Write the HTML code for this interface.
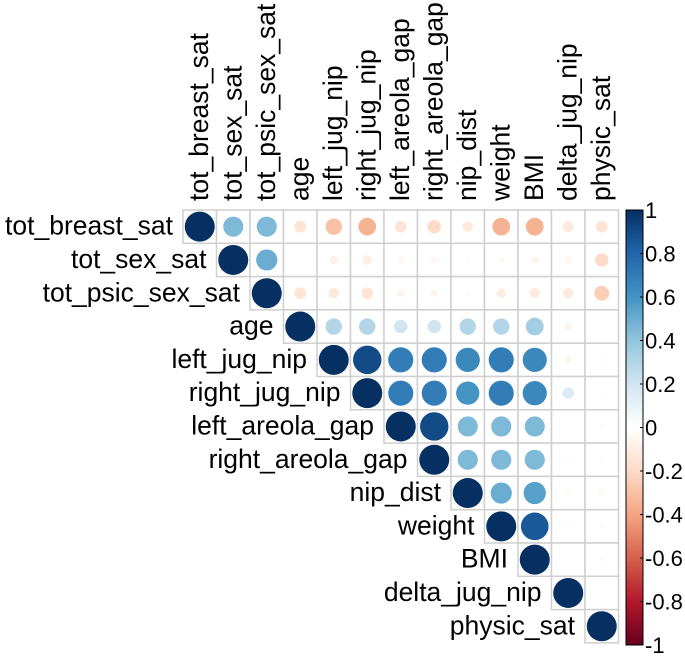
<!DOCTYPE html>
<html><head><meta charset="utf-8">
<style>body{margin:0;background:#fff}svg{display:block;font-family:"Liberation Sans",sans-serif}</style>
</head><body>
<svg id="c" width="685" height="658"></svg>
<script>
const labels=["tot_breast_sat","tot_sex_sat","tot_psic_sex_sat","age","left_jug_nip","right_jug_nip","left_areola_gap","right_areola_gap","nip_dist","weight","BMI","delta_jug_nip","physic_sat"];
const row0=[1,.45,.45,-.15,-.3,-.35,-.15,-.2,-.12,-.35,-.35,-.13,-.15];
const row1=[1,.5,.01,-.08,-.1,-.05,-.05,.02,-.04,-.06,-.05,-.2];
const row2=[1,-.15,-.12,-.15,-.06,-.06,.02,-.1,-.12,-.12,-.25];
const row3=[1,.3,.3,.2,.2,.3,.3,.35,-.06,.01];
const row4=[1,.9,.7,.7,.65,.7,.65,-.06,-.02];
const row5=[1,.7,.7,.6,.7,.65,.15,-.02];
const row6=[1,.9,.45,.45,.45,.01,-.02];
const row7=[1,.45,.45,.45,.02,-.02];
const row8=[1,.5,.55,-.04,-.04];
const row9=[1,.85,.02,-.02];
const row10=[1,.02,-.03];
const row11=[1,.01];
const row12=[1];
const rows=[row0,row1,row2,row3,row4,row5,row6,row7,row8,row9,row10,row11,row12];
const ticks=[1,0.8,0.6,0.4,0.2,0,-0.2,-0.4,-0.6,-0.8,-1];
const X0=183,Y0=210,CW=33.5,CH=33.3,RMAX=15,FS=26.5;
const pal=["#67001F","#B2182B","#D6604D","#F4A582","#FDDBC7","#FFFFFF","#D1E5F0","#92C5DE","#4393C3","#2166AC","#053061"];
function hex(h){return [1,3,5].map(i=>parseInt(h.substr(i,2),16));}
function col(v){const t=(v+1)/2*10;const i=Math.min(9,Math.floor(t)),f=t-i;const a=hex(pal[i]),b=hex(pal[i+1]);return "rgb("+a.map((x,k)=>Math.round(x+(b[k]-x)*f)).join(",")+")";}
const NS="http://www.w3.org/2000/svg",svg=document.getElementById("c");
function mk(t,a,p){const e=document.createElementNS(NS,t);for(const k in a)e.setAttribute(k,a[k]);(p||svg).appendChild(e);return e;}
function xc(j){return X0+j*CW;}function yc(i){return Y0+i*CH;}
for(let i=0;i<13;i++){
  const lt=mk("text",{x:xc(i)-10,y:yc(i)+CH/2+8,"text-anchor":"end","font-size":FS,fill:"#000"});
  lt.textContent=labels[i];
  
  
  const ct=mk("text",{transform:`translate(${xc(i)+CW/2+8},201) rotate(-90)`,"font-size":FS,fill:"#000"});
  ct.textContent=labels[i];
  
  
  rows[i].forEach((v,k)=>{const j=i+k;
    const r=mk("rect",{x:xc(j),y:yc(i),width:CW,height:CH,fill:"#fff",stroke:"#cfcfcf","stroke-width":1.5});
    
    
    const c=mk("circle",{cx:xc(j)+CW/2,cy:yc(i)+CH/2,r:RMAX*Math.sqrt(Math.abs(v)),fill:col(v)});
    
    
  });
}
const BX=626,BT=210,BB=645,BW=17;
const g=mk("defs",{});const lg=mk("linearGradient",{id:"gr",x1:0,y1:0,x2:0,y2:1},g);
pal.slice().reverse().forEach((p,k)=>mk("stop",{offset:k/10,"stop-color":p},lg));
const bar=mk("rect",{x:BX,y:BT,width:BW,height:BB-BT,fill:"url(#gr)",stroke:"#000","stroke-width":1});


ticks.forEach(t=>{const y=BT+(1-t)/2*(BB-BT);
  mk("line",{x1:BX+BW-3,x2:BX+BW,y1:y,y2:y,stroke:"#000"});
  const tx=mk("text",{x:BX+BW+2,y:y+8,"font-size":"22",fill:"#000"});tx.textContent=t;
  
  
});
</script>
</body></html>
